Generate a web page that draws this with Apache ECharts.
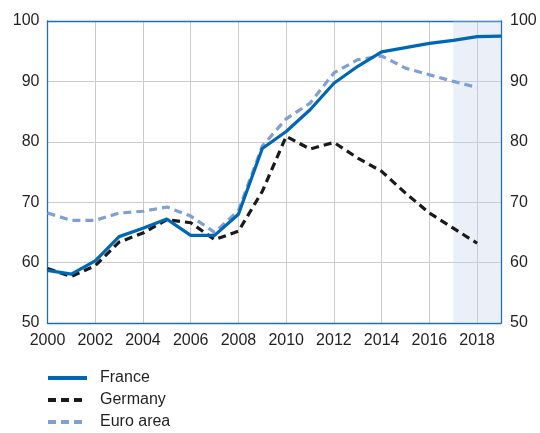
<!DOCTYPE html>
<html>
<head>
<meta charset="utf-8">
<script src="https://cdn.jsdelivr.net/npm/echarts@6/dist/echarts.min.js"></script>
<style>
  html, body { margin: 0; padding: 0; background: #fff; }
  #chart { width: 540px; height: 433px; }
</style>
</head>
<body>
<div id="chart"></div>
<script>
// years on the x axis
var years = [2000, 2001, 2002, 2003, 2004, 2005, 2006, 2007, 2008, 2009,
  2010, 2011, 2012, 2013, 2014, 2015, 2016, 2017, 2018, 2019];
var france = [58.7, 58.1, 60.3, 64.3, 65.7, 67.2, 64.5, 64.5, 68.0, 78.9,
  81.7, 85.3, 89.7, 92.5, 94.9, 95.6, 96.3, 96.8, 97.4, 97.5];
var germany = [59.0, 57.7, 59.5, 63.4, 64.9, 67.1, 66.6, 63.8, 65.2, 71.8,
  80.9, 78.8, 79.9, 77.3, 75.1, 71.5, 68.2, 65.7, 63.2];
var euroArea = [68.2, 67.0, 67.0, 68.2, 68.5, 69.2, 67.7, 65.0, 68.6, 79.3,
  83.8, 86.4, 91.4, 93.6, 94.2, 92.2, 91.1, 90.0, 89.0];
// shaded projection period
var shadeFrom = 2017, shadeTo = 2019;

function pairs(vals) {
  return vals.map(function (v, i) { return [years[i], v]; });
}

var font = '"Liberation Sans", Arial, sans-serif';
var frameColor = '#1a6fc0';
var textColor = '#231f20';
var frameLine = { show: true, lineStyle: { color: frameColor, width: 1.3 } };

var chart = echarts.init(document.getElementById('chart'));

var option = {
  animation: false,
  grid: { left: 47.5, right: 39, top: 21, bottom: 110 },
  legend: {
    orient: 'vertical',
    left: 46,
    top: 370,
    height: 90,
    padding: 0,
    itemWidth: 39,
    itemHeight: 14,
    itemGap: 6,
    itemStyle: { opacity: 0 },
    lineStyle: { width: 4 },
    textStyle: { color: textColor, fontSize: 16, fontFamily: font, padding: [0, 0, 0, 8] },
    data: ['France', 'Germany', 'Euro area']
  },
  xAxis: [
    {
      type: 'value',
      min: 2000,
      max: 2019,
      interval: 2,
      axisLine: frameLine,
      axisTick: { show: false },
      splitLine: { show: true, lineStyle: { color: '#cccccc', width: 1 } },
      axisLabel: {
        color: textColor, fontSize: 16, fontFamily: font, margin: 10,
        showMaxLabel: false,
        formatter: function (v) { return v % 2 === 0 ? String(v) : ''; }
      }
    },
    {
      // top edge of the frame only
      type: 'value',
      position: 'top',
      min: 2000,
      max: 2019,
      interval: 2,
      axisLine: frameLine,
      axisTick: { show: false },
      axisLabel: { show: false },
      splitLine: { show: false }
    }
  ],
  yAxis: [
    {
      type: 'value',
      position: 'left',
      min: 50,
      max: 100,
      interval: 10,
      axisLine: frameLine,
      axisTick: { show: false },
      splitLine: { show: true, lineStyle: { color: '#cccccc', width: 1 } },
      axisLabel: { color: textColor, fontSize: 16, fontFamily: font, margin: 8 }
    },
    {
      type: 'value',
      position: 'right',
      min: 50,
      max: 100,
      interval: 10,
      axisLine: frameLine,
      axisTick: { show: false },
      splitLine: { show: false },
      axisLabel: { color: textColor, fontSize: 16, fontFamily: font, margin: 9 }
    }
  ],
  series: [
    {
      name: 'France',
      type: 'line',
      data: pairs(france),
      symbol: 'none',
      z: 4,
      lineStyle: { color: '#0067b4', width: 3.2 },
      itemStyle: { color: '#0067b4' },
      markArea: {
        silent: true,
        z: 1,
        itemStyle: { color: 'rgba(190, 204, 234, 0.32)' },
        data: [[{ xAxis: shadeFrom }, { xAxis: shadeTo }]]
      }
    },
    {
      name: 'Germany',
      type: 'line',
      data: pairs(germany),
      symbol: 'none',
      z: 3,
      lineStyle: { color: '#1a1a1a', width: 3.2, type: [8, 5] },
      itemStyle: { color: '#1a1a1a' }
    },
    {
      name: 'Euro area',
      type: 'line',
      data: pairs(euroArea),
      symbol: 'none',
      z: 2,
      lineStyle: { color: '#7f9fd6', width: 3.2, type: [8, 5] },
      itemStyle: { color: '#7f9fd6' }
    }
  ]
};
chart.setOption(option);
</script>
</body>
</html>
